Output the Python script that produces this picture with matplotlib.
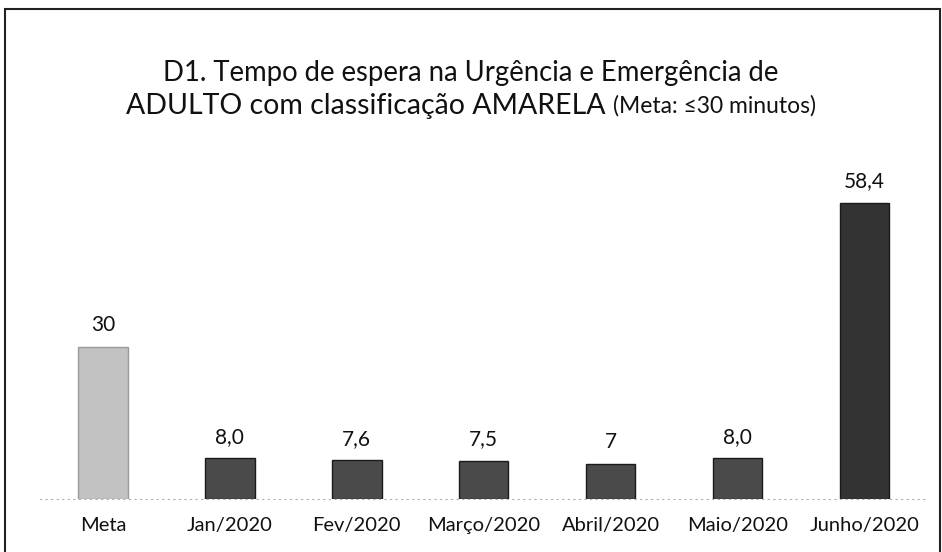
import matplotlib.pyplot as plt
from matplotlib.patches import Rectangle

categorias = ['Meta', 'Jan/2020', 'Fev/2020', 'Março/2020', 'Abril/2020', 'Maio/2020', 'Junho/2020']
valores = [30, 8.0, 7.6, 7.5, 7, 8.0, 58.4]
rotulos = ['30', '8,0', '7,6', '7,5', '7', '8,0', '58,4']
cores = ['#c2c2c2', '#4a4a4a', '#4a4a4a', '#4a4a4a', '#4a4a4a', '#4a4a4a', '#333333']

plt.rcParams['font.family'] = ['Lato', 'DejaVu Sans']

fig = plt.figure(figsize=(9.42, 5.52), dpi=100)
ax = fig.add_axes([0.042, 0.096, 0.943, 0.643])

x = list(range(len(categorias)))
ax.bar(x, valores, width=0.39, color=cores, edgecolor=['#9a9a9a'] + ['#1a1a1a'] * 6, linewidth=1)

for i in x:
    ax.text(i, valores[i] + 2.3, rotulos[i], ha='center', va='bottom', fontsize=15, color='#111111')

ax.set_xticks(x)
ax.set_xticklabels(categorias, fontsize=14.5, color='#111111')
ax.tick_params(axis='x', length=0, pad=13)
ax.set_yticks([])
ax.set_xlim(-0.5, len(categorias) - 0.5)
ax.set_ylim(0, 70)
for s in ['top', 'right', 'left']:
    ax.spines[s].set_visible(False)
ax.spines['bottom'].set_color('#b0b0b0')
ax.spines['bottom'].set_linestyle((0, (1, 4)))

fig.text(0.5, 0.868, 'D1. Tempo de espera na Urgência e Emergência de',
         ha='center', va='center', fontsize=19.8, color='#111111')

# segunda linha: parte principal + parte menor, centradas em conjunto
t1 = fig.text(0, 0.808, 'ADULTO com classificação AMARELA ',
              ha='left', va='center', fontsize=20.5, color='#111111')
t2 = fig.text(0, 0.808, '(Meta: ≤30 minutos)',
              ha='left', va='center', fontsize=16.5, color='#111111')
fig.canvas.draw()
w1 = t1.get_window_extent().width / fig.bbox.width
w2 = t2.get_window_extent().width / fig.bbox.width
x0 = 0.5 - (w1 + w2) / 2
t1.set_x(x0)
t2.set_x(x0 + w1)

fig.patches.append(Rectangle((5 / 942, -0.02), 935 / 942, 1.002 - 10 / 552 + 0.02,
                             transform=fig.transFigure, fill=False,
                             edgecolor='#222222', linewidth=1.5))

fig.savefig('out.png', dpi=100)
